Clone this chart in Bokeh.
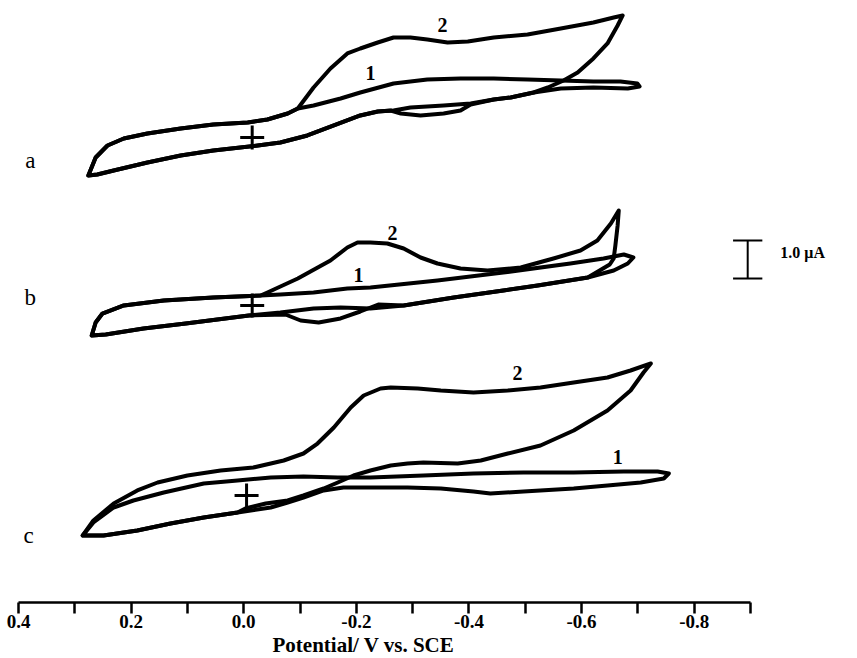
from bokeh.plotting import figure
from bokeh.models import Range1d, FixedTicker, Title
from bokeh.embed import file_html
from bokeh.resources import INLINE
from bokeh.core.properties import value

# ---- data: potential (V vs. SCE), current (uA, relative to the start "+") ----
a1_E = [0.276, 0.263, 0.242, 0.213, 0.171, 0.112, 0.054, -0.007, -0.042, -0.078, -0.096, -0.124, -0.172,
        -0.207, -0.266, -0.326, -0.385, -0.444, -0.504, -0.563, -0.621, -0.669, -0.699, -0.703, -0.682,
        -0.621, -0.563, -0.515, -0.474, -0.444, -0.403, -0.355, -0.296, -0.266, -0.238, -0.207, -0.160,
        -0.113, -0.065, -0.025, 0.054, 0.112, 0.171, 0.231, 0.260, 0.276]
a1_I = [-1.000, -0.526, -0.211, -0.026, 0.105, 0.237, 0.342, 0.395, 0.474, 0.632, 0.763, 0.842, 1.026,
        1.184, 1.421, 1.526, 1.553, 1.553, 1.526, 1.500, 1.474, 1.474, 1.421, 1.342, 1.289,
        1.316, 1.289, 1.184, 1.053, 1.000, 0.895, 0.842, 0.789, 0.711, 0.684, 0.579, 0.316,
        0.053, -0.132, -0.211, -0.342, -0.474, -0.658, -0.868, -0.974, -1.000]

a2_E = [0.276, 0.263, 0.242, 0.213, 0.171, 0.112, 0.054, -0.007, -0.042, -0.078, -0.096, -0.124, -0.154,
        -0.184, -0.207, -0.238, -0.266, -0.296, -0.326, -0.362, -0.398, -0.444, -0.504, -0.563, -0.621,
        -0.657, -0.673, -0.664, -0.646, -0.621, -0.593, -0.568, -0.540, -0.515, -0.474, -0.444, -0.403,
        -0.385, -0.355, -0.314, -0.279, -0.261, -0.238, -0.207, -0.160, -0.113, -0.065, -0.025, 0.054,
        0.112, 0.171, 0.231, 0.260, 0.276]
a2_I = [-1.000, -0.526, -0.211, -0.026, 0.105, 0.237, 0.342, 0.395, 0.474, 0.632, 0.763, 1.316, 1.816,
        2.211, 2.342, 2.500, 2.632, 2.632, 2.579, 2.500, 2.526, 2.632, 2.711, 2.868, 3.026,
        3.158, 3.211, 2.947, 2.474, 2.079, 1.711, 1.500, 1.316, 1.184, 1.053, 1.000, 0.868,
        0.711, 0.632, 0.579, 0.632, 0.711, 0.684, 0.579, 0.316, 0.053, -0.132, -0.211, -0.342,
        -0.474, -0.658, -0.868, -0.974, -1.000]

b1_E = [0.270, 0.263, 0.251, 0.213, 0.142, 0.054, -0.030, -0.065, -0.124, -0.184, -0.225, -0.344, -0.461,
        -0.580, -0.639, -0.675, -0.692, -0.682, -0.657, -0.611, -0.522, -0.461, -0.373, -0.284, -0.225,
        -0.172, -0.124, -0.065, -0.009, 0.103, 0.178, 0.245, 0.270]
b1_I = [-0.789, -0.447, -0.211, 0.000, 0.132, 0.211, 0.263, 0.289, 0.342, 0.447, 0.474, 0.658, 0.868,
        1.105, 1.237, 1.342, 1.263, 1.105, 0.921, 0.737, 0.526, 0.395, 0.211, 0.000, -0.079,
        -0.053, -0.079, -0.184, -0.263, -0.474, -0.605, -0.763, -0.789]

b2_E = [0.270, 0.263, 0.251, 0.213, 0.142, 0.054, -0.030, -0.042, -0.096, -0.154, -0.184, -0.202, -0.225,
        -0.255, -0.284, -0.314, -0.344, -0.385, -0.433, -0.492, -0.550, -0.598, -0.628, -0.652, -0.666,
        -0.664, -0.660, -0.657, -0.650, -0.611, -0.522, -0.461, -0.373, -0.284, -0.239, -0.207, -0.172,
        -0.133, -0.101, -0.074, -0.009, 0.103, 0.178, 0.245, 0.270]
b2_I = [-0.789, -0.447, -0.211, 0.000, 0.132, 0.211, 0.263, 0.342, 0.711, 1.184, 1.526, 1.658, 1.658,
        1.632, 1.500, 1.263, 1.105, 0.974, 0.921, 1.000, 1.237, 1.447, 1.711, 2.158, 2.500,
        2.105, 1.579, 1.237, 1.079, 0.737, 0.526, 0.395, 0.211, 0.000, 0.026, -0.158, -0.342,
        -0.447, -0.395, -0.237, -0.263, -0.474, -0.605, -0.763, -0.789]

c1_E = [0.286, 0.267, 0.231, 0.196, 0.142, 0.071, 0.011, -0.048, -0.106, -0.167, -0.225, -0.319, -0.408,
        -0.497, -0.586, -0.675, -0.735, -0.755, -0.746, -0.705, -0.646, -0.586, -0.497, -0.438, -0.408,
        -0.350, -0.291, -0.225, -0.177, -0.142, -0.106, -0.078, -0.048, 0.011, 0.071, 0.130, 0.189,
        0.249, 0.286]
c1_I = [-1.053, -0.711, -0.316, -0.132, 0.079, 0.316, 0.395, 0.474, 0.500, 0.474, 0.474, 0.526, 0.579,
        0.605, 0.605, 0.632, 0.632, 0.579, 0.447, 0.342, 0.263, 0.184, 0.105, 0.053, 0.105,
        0.184, 0.211, 0.211, 0.211, 0.132, -0.053, -0.184, -0.316, -0.447, -0.579, -0.737, -0.921,
        -1.053, -1.053]

c2_E = [0.286, 0.267, 0.231, 0.189, 0.153, 0.100, 0.041, -0.017, -0.071, -0.106, -0.131, -0.160, -0.190,
        -0.213, -0.243, -0.261, -0.309, -0.350, -0.408, -0.469, -0.527, -0.586, -0.646, -0.687, -0.723,
        -0.710, -0.687, -0.646, -0.586, -0.527, -0.469, -0.421, -0.380, -0.319, -0.291, -0.261, -0.225,
        -0.195, -0.167, -0.142, -0.106, -0.078, -0.039, -0.003, 0.011, 0.071, 0.130, 0.189, 0.249, 0.286]
c2_I = [-1.053, -0.658, -0.211, 0.132, 0.342, 0.526, 0.658, 0.737, 0.921, 1.105, 1.368, 1.789, 2.316,
        2.632, 2.816, 2.842, 2.816, 2.763, 2.711, 2.763, 2.842, 2.974, 3.105, 3.289, 3.474,
        3.237, 2.763, 2.237, 1.711, 1.316, 1.105, 0.921, 0.842, 0.868, 0.842, 0.789, 0.658,
        0.526, 0.342, 0.184, 0.000, -0.132, -0.211, -0.342, -0.447, -0.579, -0.737, -0.921, -1.053, -1.053]

start_E = [-0.015, -0.015, -0.005]          # "+" start points of traces a, b, c
panel_names = ["a", "b", "c"]
curve_names = ["1", "2"]
scale_bar_uA = 1.0

tick_values = [0.4, 0.3, 0.2, 0.1, 0.0, -0.1, -0.2, -0.3, -0.4, -0.5, -0.6, -0.7, -0.8, -0.9]
tick_labels = ["0.4", "", "0.2", "", "0.0", "", "-0.2", "", "-0.4", "", "-0.6", "", "-0.8", ""]

# ---- layout: vertical offsets of the stacked traces (uA) ----
off = {"a": 12.237, "b": 7.816, "c": 2.816}

SERIF = "Liberation Serif"

p = figure(width=857, height=658, x_range=Range1d(0.432, -1.090), y_range=Range1d(0, 15.842),
           output_backend="svg", toolbar_location=None, y_axis_location=None,
           min_border_left=0, min_border_right=0, min_border_top=0, min_border_bottom=56)
p.grid.visible = False
p.outline_line_color = None
p.background_fill_color = "white"

LW = 4
traces = [("a", a1_E, a1_I), ("a", a2_E, a2_I), ("b", b1_E, b1_I), ("b", b2_E, b2_I),
          ("c", c1_E, c1_I), ("c", c2_E, c2_I)]
for key, E, I in traces:
    p.line(E, [v + off[key] for v in I], line_color="black", line_width=LW,
           line_join="round", line_cap="round")

# start markers
p.scatter(start_E, [off[k] for k in panel_names], marker="cross", size=24,
          line_color="black", line_width=3)

# curve labels 1 / 2
lab_x = [-0.225, -0.353, -0.204, -0.264, -0.664, -0.486]
lab_y = [off["a"] + 1.684, off["a"] + 2.948, off["b"] + 0.790, off["b"] + 1.895,
         off["c"] + 1.000, off["c"] + 3.211]
lab_t = [curve_names[0], curve_names[1]] * 3
p.text(lab_x, lab_y, text=lab_t, text_font=value(SERIF), text_font_size="20px",
       text_font_style="bold", text_align="center", text_baseline="middle", text_color="black")

# panel letters
p.text([0.379, 0.379, 0.382], [off["a"] - 0.605, off["b"] + 0.211, off["c"] - 1.053],
       text=panel_names, text_font=value(SERIF), text_font_size="23px",
       text_align="center", text_baseline="middle", text_color="black")

# scale bar
bar_E = -0.895
bar_lo = 8.526
p.segment([bar_E], [bar_lo], [bar_E], [bar_lo + scale_bar_uA], line_color="black", line_width=2)
p.segment([bar_E + 0.026, bar_E + 0.026], [bar_lo, bar_lo + scale_bar_uA],
          [bar_E - 0.026, bar_E - 0.026], [bar_lo, bar_lo + scale_bar_uA],
          line_color="black", line_width=2)
p.text([-0.953], [bar_lo + 0.684], text=["1.0 \u03bcA"], text_font=value(SERIF),
       text_font_size="16px", text_font_style="bold", text_align="left",
       text_baseline="middle", text_color="black")

# x axis
ax = p.xaxis[0]
ax.ticker = FixedTicker(ticks=tick_values)
ax.major_label_overrides = {v: t for v, t in zip(tick_values, tick_labels)}
ax.bounds = (-0.9, 0.4)
ax.axis_line_width = 2.5
ax.axis_line_color = "black"
ax.major_tick_line_width = 2.5
ax.major_tick_line_color = "black"
ax.major_tick_out = 11
ax.major_tick_in = 0
ax.minor_tick_out = 0
ax.minor_tick_in = 0
ax.major_label_standoff = 1
ax.major_label_text_font = SERIF
ax.major_label_text_font_style = "bold"
ax.major_label_text_font_size = "19px"
ax.major_label_text_color = "black"

p.add_layout(Title(text="Potential/ V vs. SCE", align="left", offset=272, standoff=0,
                   text_font=SERIF, text_font_style="bold", text_font_size="21px",
                   text_color="black"), "below")

open("out.html", "w").write(file_html(p, INLINE))
